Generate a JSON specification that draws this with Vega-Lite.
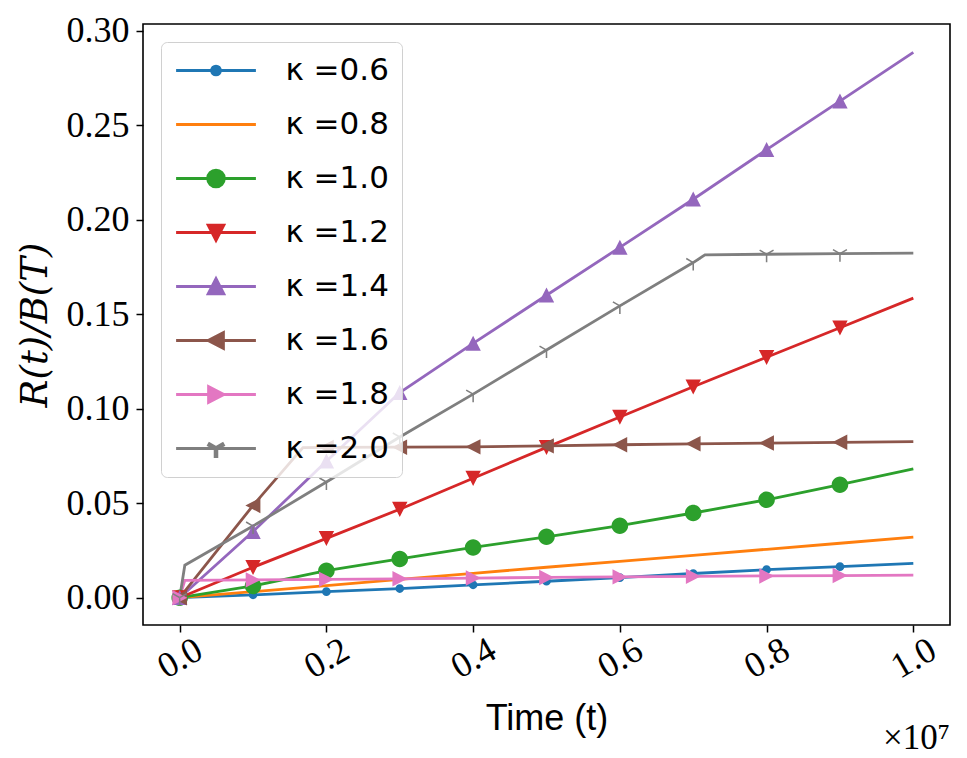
{
  "$schema": "https://vega.github.io/schema/vega-lite/v6.json",
  "width": 807,
  "height": 601,
  "autosize": "none",
  "padding": {"left": 143, "top": 24, "right": 17, "bottom": 133},
  "background": "white",
  "config": {
    "view": {"stroke": "black", "strokeWidth": 1.6},
    "axis": {
      "domain": false, "grid": false,
      "tickColor": "black", "tickWidth": 1.5, "tickSize": 7,
      "labelColor": "black", "titleColor": "black",
      "labelFont": "Liberation Serif", "labelFontSize": 36,
      "titleFontWeight": "normal", "titleFontSize": 36
    }
  },
  "data": {
    "values": [
      {"kappa": "0.6", "t": 0, "r": 0},
      {"kappa": "0.6", "t": 1000000, "r": 0.0015},
      {"kappa": "0.6", "t": 2000000, "r": 0.0032},
      {"kappa": "0.6", "t": 3000000, "r": 0.0048},
      {"kappa": "0.6", "t": 4000000, "r": 0.0068},
      {"kappa": "0.6", "t": 5000000, "r": 0.0087},
      {"kappa": "0.6", "t": 6000000, "r": 0.0106},
      {"kappa": "0.6", "t": 7000000, "r": 0.0128},
      {"kappa": "0.6", "t": 8000000, "r": 0.0148},
      {"kappa": "0.6", "t": 9000000, "r": 0.0164},
      {"kappa": "0.6", "t": 10000000, "r": 0.0182},
      {"kappa": "0.8", "t": 0, "r": 0},
      {"kappa": "0.8", "t": 1000000, "r": 0.0032},
      {"kappa": "0.8", "t": 2000000, "r": 0.0064},
      {"kappa": "0.8", "t": 3000000, "r": 0.0097},
      {"kappa": "0.8", "t": 4000000, "r": 0.0129},
      {"kappa": "0.8", "t": 5000000, "r": 0.0161},
      {"kappa": "0.8", "t": 6000000, "r": 0.0192},
      {"kappa": "0.8", "t": 7000000, "r": 0.0224},
      {"kappa": "0.8", "t": 8000000, "r": 0.0256},
      {"kappa": "0.8", "t": 9000000, "r": 0.0288},
      {"kappa": "0.8", "t": 10000000, "r": 0.032},
      {"kappa": "1.0", "t": 0, "r": 0},
      {"kappa": "1.0", "t": 1000000, "r": 0.0062},
      {"kappa": "1.0", "t": 2000000, "r": 0.0143},
      {"kappa": "1.0", "t": 3000000, "r": 0.0205},
      {"kappa": "1.0", "t": 4000000, "r": 0.0266},
      {"kappa": "1.0", "t": 5000000, "r": 0.0322},
      {"kappa": "1.0", "t": 6000000, "r": 0.0381},
      {"kappa": "1.0", "t": 7000000, "r": 0.0448},
      {"kappa": "1.0", "t": 8000000, "r": 0.0518},
      {"kappa": "1.0", "t": 9000000, "r": 0.0598},
      {"kappa": "1.0", "t": 10000000, "r": 0.0682},
      {"kappa": "1.2", "t": 0, "r": 0},
      {"kappa": "1.2", "t": 1000000, "r": 0.0161},
      {"kappa": "1.2", "t": 2000000, "r": 0.0314},
      {"kappa": "1.2", "t": 3000000, "r": 0.0468},
      {"kappa": "1.2", "t": 4000000, "r": 0.0632},
      {"kappa": "1.2", "t": 5000000, "r": 0.0795},
      {"kappa": "1.2", "t": 6000000, "r": 0.0956},
      {"kappa": "1.2", "t": 7000000, "r": 0.1116},
      {"kappa": "1.2", "t": 8000000, "r": 0.1272},
      {"kappa": "1.2", "t": 9000000, "r": 0.1428},
      {"kappa": "1.2", "t": 10000000, "r": 0.1585},
      {"kappa": "1.4", "t": 0, "r": 0},
      {"kappa": "1.4", "t": 1000000, "r": 0.035},
      {"kappa": "1.4", "t": 2000000, "r": 0.0722},
      {"kappa": "1.4", "t": 3000000, "r": 0.1085},
      {"kappa": "1.4", "t": 4000000, "r": 0.1345},
      {"kappa": "1.4", "t": 5000000, "r": 0.16},
      {"kappa": "1.4", "t": 6000000, "r": 0.1853},
      {"kappa": "1.4", "t": 7000000, "r": 0.2108},
      {"kappa": "1.4", "t": 8000000, "r": 0.237},
      {"kappa": "1.4", "t": 9000000, "r": 0.2627},
      {"kappa": "1.4", "t": 10000000, "r": 0.2885},
      {"kappa": "1.6", "t": 0, "r": 0},
      {"kappa": "1.6", "t": 1000000, "r": 0.0488},
      {"kappa": "1.6", "t": 1680000, "r": 0.0794},
      {"kappa": "1.6", "t": 2000000, "r": 0.0795},
      {"kappa": "1.6", "t": 3000000, "r": 0.0796},
      {"kappa": "1.6", "t": 4000000, "r": 0.0798},
      {"kappa": "1.6", "t": 5000000, "r": 0.0803},
      {"kappa": "1.6", "t": 6000000, "r": 0.0809},
      {"kappa": "1.6", "t": 7000000, "r": 0.0814},
      {"kappa": "1.6", "t": 8000000, "r": 0.0818},
      {"kappa": "1.6", "t": 9000000, "r": 0.0822},
      {"kappa": "1.6", "t": 10000000, "r": 0.0826},
      {"kappa": "1.8", "t": 0, "r": 0},
      {"kappa": "1.8", "t": 70000, "r": 0.0092},
      {"kappa": "1.8", "t": 1000000, "r": 0.0094},
      {"kappa": "1.8", "t": 2000000, "r": 0.0097},
      {"kappa": "1.8", "t": 3000000, "r": 0.01},
      {"kappa": "1.8", "t": 4000000, "r": 0.0104},
      {"kappa": "1.8", "t": 5000000, "r": 0.0107},
      {"kappa": "1.8", "t": 6000000, "r": 0.011},
      {"kappa": "1.8", "t": 7000000, "r": 0.0113},
      {"kappa": "1.8", "t": 8000000, "r": 0.0115},
      {"kappa": "1.8", "t": 9000000, "r": 0.0117},
      {"kappa": "1.8", "t": 10000000, "r": 0.0119},
      {"kappa": "2.0", "t": 0, "r": 0},
      {"kappa": "2.0", "t": 70000, "r": 0.0172},
      {"kappa": "2.0", "t": 1000000, "r": 0.0379},
      {"kappa": "2.0", "t": 2000000, "r": 0.0612},
      {"kappa": "2.0", "t": 3000000, "r": 0.085},
      {"kappa": "2.0", "t": 4000000, "r": 0.1077},
      {"kappa": "2.0", "t": 5000000, "r": 0.131},
      {"kappa": "2.0", "t": 6000000, "r": 0.1544},
      {"kappa": "2.0", "t": 7000000, "r": 0.1773},
      {"kappa": "2.0", "t": 7160000, "r": 0.1814},
      {"kappa": "2.0", "t": 8000000, "r": 0.1817},
      {"kappa": "2.0", "t": 9000000, "r": 0.182},
      {"kappa": "2.0", "t": 10000000, "r": 0.1823}
    ]
  },
  "layer": [
    {
      "encoding": {
        "x": {
          "field": "t", "type": "quantitative",
          "scale": {"domain": [-500000, 10500000], "nice": false, "zero": false},
          "axis": {
            "values": [0, 2000000, 4000000, 6000000, 8000000, 10000000],
            "labelExpr": "format(datum.value / 10000000, '.1f')",
            "labelAngle": -30, "labelAlign": "center", "labelBaseline": "middle",
            "labelPadding": 26, "labelFlush": false, "labelOverlap": false,
            "title": "Time (t)", "titleFont": "Liberation Sans", "titlePadding": 17
          }
        },
        "y": {
          "field": "r", "type": "quantitative",
          "scale": {"domain": [-0.01445, 0.3035], "nice": false, "zero": false},
          "axis": {
            "values": [0, 0.05, 0.1, 0.15, 0.2, 0.25, 0.3],
            "format": ".2f", "labelPadding": 7, "labelFlush": false,
            "title": "R(t)/B(T)", "titleFont": "DejaVu Serif", "titleFontStyle": "italic",
            "titleFontSize": 37, "titlePadding": 12
          }
        }
      },
      "layer": [
        {
          "mark": {"type": "line", "strokeWidth": 2.8},
          "encoding": {
            "color": {
              "field": "kappa", "type": "nominal",
              "scale": {
                "domain": ["0.6", "0.8", "1.0", "1.2", "1.4", "1.6", "1.8", "2.0"],
                "range": ["#1f77b4", "#ff7f0e", "#2ca02c", "#d62728", "#9467bd", "#8c564b", "#e377c2", "#7f7f7f"]
              },
              "legend": {
                "title": null, "orient": "top-left", "offset": 18,
                "padding": 13, "rowPadding": 22, "labelOffset": 54, "symbolOffset": 26.5,
                "symbolSize": 196, "symbolStrokeWidth": 3,
                "fillColor": "rgba(255,255,255,0.8)", "strokeColor": "#d0d0d0", "cornerRadius": 6,
                "labelFont": "DejaVu Sans", "labelFontSize": 31, "labelColor": "black",
                "labelExpr": "'κ =' + datum.label"
              }
            }
          }
        },
        {
          "transform": [
            {"filter": {"field": "t", "oneOf": [0, 1000000, 2000000, 3000000, 4000000, 5000000, 6000000, 7000000, 8000000, 9000000]}},
            {"filter": "datum.kappa !== '0.8'"}
          ],
          "mark": {"type": "point", "filled": true, "size": 196, "opacity": 1},
          "encoding": {
            "color": {"field": "kappa", "type": "nominal", "legend": null},
            "shape": {
              "field": "kappa", "type": "nominal", "legend": null,
              "scale": {
                "domain": ["0.6", "0.8", "1.0", "1.2", "1.4", "1.6", "1.8", "2.0"],
                "range": [
                  "M-5.7,0H5.7M-0.62,0A0.62,0.62 0 1,0 0.62,0A0.62,0.62 0 1,0 -0.62,0Z",
                  "M-5.7,0H5.7",
                  "M-5.7,0H5.7M-1.18,0A1.18,1.18 0 1,0 1.18,0A1.18,1.18 0 1,0 -1.18,0Z",
                  "M-5.7,0H5.7M-1.1,-1.05L1.1,-1.05L0,1.1Z",
                  "M-5.7,0H5.7M-1.1,1.05L1.1,1.05L0,-1.1Z",
                  "M-5.7,0H5.7M1.05,-1.1L1.05,1.1L-1.1,0Z",
                  "M-5.7,0H5.7M-1.05,-1.1L-1.05,1.1L1.1,0Z",
                  "M-5.7,0H5.7M-0.11,0L0.11,0L0.11,1.15L-0.11,1.15ZM0.055,-0.095L-0.94,-0.67L-1.05,-0.48L-0.055,0.095ZM0.055,0.095L1.05,-0.48L0.94,-0.67L-0.055,-0.095Z"
                ]
              }
            }
          }
        }
      ]
    },
    {
      "data": {"values": [{"label": "×10⁷"}]},
      "mark": {"type": "text", "align": "right", "baseline": "middle", "font": "Liberation Serif", "fontSize": 35, "clip": false, "fill": "black"},
      "encoding": {
        "x": {"datum": 10500000, "type": "quantitative"},
        "y": {"datum": -0.0743, "type": "quantitative"},
        "text": {"field": "label"}
      }
    }
  ]
}
